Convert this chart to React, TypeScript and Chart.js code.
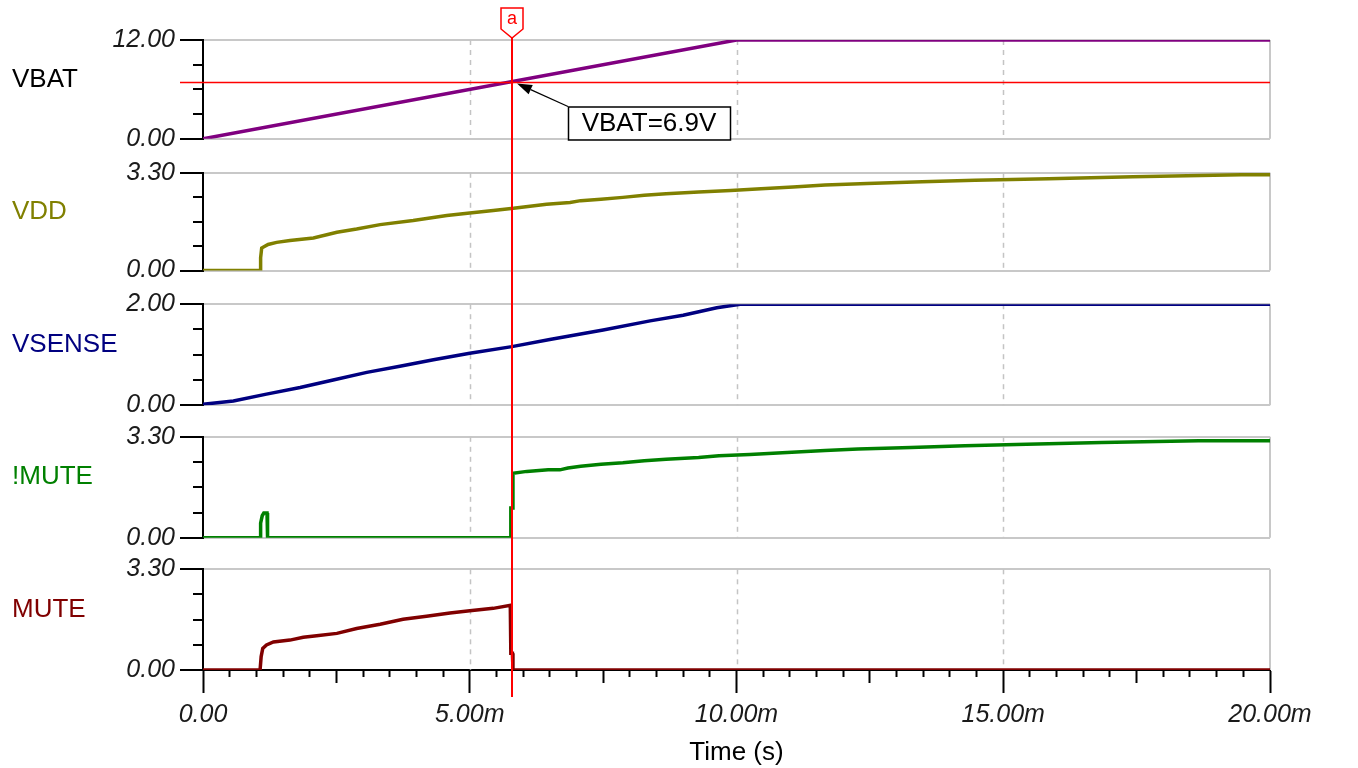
import { useEffect, useRef } from 'react';
import { Chart, registerables } from 'chart.js';

Chart.register(...registerables);
Chart.defaults.font.family = '"Liberation Sans", Arial, sans-serif';

// ---------- data ----------
const SERIES_NAMES = ['VBAT', 'VDD', 'VSENSE', '!MUTE', 'MUTE'];
const SERIES_COLORS = ['#800080', '#808000', '#000080', '#008000', '#800000'];
const LABEL_COLORS = ['#000000', '#808000', '#000080', '#008000', '#800000'];
const Y_MAX = [12, 3.3, 2, 3.3, 3.3];
const Y_TICK_LABELS = [
  ['0.00', '12.00'],
  ['0.00', '3.30'],
  ['0.00', '2.00'],
  ['0.00', '3.30'],
  ['0.00', '3.30'],
];

// time in ms
const VBAT_T = [0, 10, 20];
const VBAT_V = [0, 12, 12];

const VDD_T = [0, 1.07, 1.08, 1.1, 1.22, 1.38, 1.63, 2.07, 2.51, 2.88, 3.32, 3.94, 4.57, 5.0, 5.44, 5.82, 6.44, 6.88, 7.08, 7.46, 7.87, 8.27, 8.68, 9.29, 9.89, 10.46, 11.06, 11.66, 12.45, 13.48, 14.47, 15.85, 17.43, 19.46, 20];
const VDD_V = [0, 0, 0.43, 0.76, 0.88, 0.95, 1.01, 1.1, 1.29, 1.4, 1.55, 1.69, 1.86, 1.94, 2.03, 2.1, 2.24, 2.3, 2.36, 2.41, 2.47, 2.54, 2.59, 2.65, 2.7, 2.76, 2.82, 2.89, 2.94, 3.0, 3.05, 3.1, 3.17, 3.23, 3.23];

const VSENSE_T = [0, 0.57, 1.19, 1.82, 2.44, 3.07, 3.69, 4.32, 5.0, 5.79, 6.5, 7.5, 8.38, 9.0, 9.63, 10.07, 20];
const VSENSE_V = [0.02, 0.085, 0.22, 0.35, 0.5, 0.65, 0.77, 0.9, 1.03, 1.16, 1.3, 1.49, 1.67, 1.78, 1.93, 2.0, 2.0];

const NMUTE_T = [0, 1.07, 1.08, 1.11, 1.14, 1.2, 1.21, 5.76, 5.77, 5.8, 5.81, 6.07, 6.47, 6.69, 6.84, 7.08, 7.46, 7.87, 8.27, 8.68, 9.29, 9.67, 10.25, 10.86, 11.66, 12.28, 13.27, 14.28, 15.44, 16.85, 18.66, 20];
const NMUTE_V = [0, 0, 0.48, 0.72, 0.81, 0.81, 0, 0, 0.97, 0.97, 2.11, 2.17, 2.22, 2.22, 2.28, 2.34, 2.4, 2.45, 2.52, 2.57, 2.62, 2.68, 2.72, 2.78, 2.85, 2.9, 2.95, 3.01, 3.06, 3.11, 3.17, 3.17];

const MUTE_T = [0, 1.07, 1.09, 1.12, 1.19, 1.32, 1.63, 1.88, 2.13, 2.51, 2.88, 3.32, 3.75, 4.19, 4.63, 5.0, 5.44, 5.76, 5.77, 5.8, 5.81, 20];
const MUTE_V = [0, 0, 0.44, 0.71, 0.82, 0.92, 0.98, 1.07, 1.12, 1.2, 1.36, 1.5, 1.66, 1.76, 1.87, 1.94, 2.02, 2.12, 0.55, 0.55, 0, 0];

const SERIES_T = [VBAT_T, VDD_T, VSENSE_T, NMUTE_T, MUTE_T];
const SERIES_V = [VBAT_V, VDD_V, VSENSE_V, NMUTE_V, MUTE_V];

const X_MIN = 0;
const X_MAX = 20;
const X_TICK_STEP = 0.5;
const X_MAJOR = [0, 5, 10, 15, 20];
const X_TICK_LABELS = ['0.00', '5.00m', '10.00m', '15.00m', '20.00m'];
const X_GRID = [5, 10, 15];
const X_TITLE = 'Time (s)';

const CURSOR_NAME = 'a';
const CURSOR_T = 5.79;
const CURSOR_V = 6.9;
const CURSOR_UNIT = 'V';

// ---------- layout ----------
const PANEL_IDS = ['y0', 'y1', 'y2', 'y3', 'y4'];
const PANEL_H = [98.8, 97.7, 101, 101, 100.7];
const GAP_H = [34, 33.7, 31.6, 31.5];
const AXIS_W = 203;
const FONT = '"Liberation Sans", Arial, sans-serif';

function near(a: number, b: number) {
  return Math.abs(a - b) < 1e-9;
}

const overlayPlugin = {
  id: 'overlay',
  beforeDatasetsDraw(chart: any) {
    const ctx = chart.ctx;
    const xs = chart.scales.x;
    ctx.save();
    PANEL_IDS.forEach((id) => {
      const ys = chart.scales[id];
      ctx.strokeStyle = '#c4c4c4';
      ctx.lineWidth = 1.5;
      ctx.setLineDash([5, 5]);
      X_GRID.forEach((v) => {
        const px = Math.round(xs.getPixelForValue(v)) + 0.5;
        ctx.beginPath();
        ctx.moveTo(px, ys.top);
        ctx.lineTo(px, ys.bottom);
        ctx.stroke();
      });
      ctx.setLineDash([]);
      ctx.lineWidth = 2;
      ctx.strokeStyle = '#c8c8c8';
      const rx = Math.round(xs.getPixelForValue(X_MAX));
      ctx.beginPath();
      ctx.moveTo(rx, ys.top);
      ctx.lineTo(rx, ys.bottom);
      ctx.stroke();
    });
    ctx.restore();
  },
  afterDatasetsDraw(chart: any) {
    const ctx = chart.ctx;
    const xs = chart.scales.x;
    ctx.save();

    // panel labels
    ctx.font = `26px ${FONT}`;
    ctx.textAlign = 'left';
    ctx.textBaseline = 'middle';
    PANEL_IDS.forEach((id, i) => {
      const ys = chart.scales[id];
      ctx.fillStyle = LABEL_COLORS[i];
      ctx.fillText(SERIES_NAMES[i], 12, (ys.top + ys.bottom) / 2 - 10);
    });

    // cursor
    const y0 = chart.scales.y0;
    const yLast = chart.scales[PANEL_IDS[PANEL_IDS.length - 1]];
    const cx = Math.round(xs.getPixelForValue(CURSOR_T));
    const cy = Math.round(y0.getPixelForValue(CURSOR_V)) + 0.5;
    ctx.strokeStyle = '#ff0000';
    ctx.lineWidth = 1.5;
    ctx.beginPath();
    ctx.moveTo(y0.right - 23, cy);
    ctx.lineTo(xs.right, cy);
    ctx.stroke();

    const mTop = y0.top - 32;
    const mSide = y0.top - 11;
    const mApex = y0.top - 2;
    ctx.lineWidth = 2;
    ctx.beginPath();
    ctx.moveTo(cx, mApex);
    ctx.lineTo(cx, yLast.bottom + 27);
    ctx.stroke();

    ctx.lineWidth = 1.5;
    ctx.fillStyle = '#ffffff';
    ctx.beginPath();
    ctx.moveTo(cx - 11, mTop);
    ctx.lineTo(cx + 11, mTop);
    ctx.lineTo(cx + 11, mSide);
    ctx.lineTo(cx, mApex);
    ctx.lineTo(cx - 11, mSide);
    ctx.closePath();
    ctx.fill();
    ctx.stroke();
    ctx.fillStyle = '#ff0000';
    ctx.font = `18px ${FONT}`;
    ctx.textAlign = 'center';
    ctx.textBaseline = 'middle';
    ctx.fillText(CURSOR_NAME, cx, mTop + 11);

    // annotation box + arrow
    const bx = cx + 56;
    const by = cy + 24;
    const bw = 162;
    const bh = 33;
    const tipX = cx + 5;
    const tipY = cy + 1;
    ctx.strokeStyle = '#000000';
    ctx.fillStyle = '#000000';
    ctx.lineWidth = 1.2;
    const ang = Math.atan2(tipY - by, tipX - bx);
    const headLen = 15;
    const baseX = tipX - headLen * Math.cos(ang);
    const baseY = tipY - headLen * Math.sin(ang);
    ctx.beginPath();
    ctx.moveTo(bx, by);
    ctx.lineTo(baseX, baseY);
    ctx.stroke();
    ctx.beginPath();
    ctx.moveTo(tipX, tipY);
    ctx.lineTo(baseX + 5 * Math.sin(ang), baseY - 5 * Math.cos(ang));
    ctx.lineTo(baseX - 5 * Math.sin(ang), baseY + 5 * Math.cos(ang));
    ctx.closePath();
    ctx.fill();

    ctx.fillStyle = '#ffffff';
    ctx.fillRect(bx, by, bw, bh);
    ctx.lineWidth = 1.5;
    ctx.strokeRect(bx + 0.5, by + 0.5, bw, bh);
    ctx.fillStyle = '#000000';
    ctx.font = `26px ${FONT}`;
    ctx.textAlign = 'center';
    ctx.textBaseline = 'middle';
    ctx.fillText(`${SERIES_NAMES[0]}=${CURSOR_V}${CURSOR_UNIT}`, bx + bw / 2, by + bh / 2 + 1);

    ctx.restore();
  },
};

function buildConfig(): any {
  const scales: any = {
    x: {
      type: 'linear',
      min: X_MIN,
      max: X_MAX,
      afterBuildTicks: (s: any) => {
        const t: any[] = [];
        for (let v = X_MIN; v <= X_MAX + 1e-9; v += X_TICK_STEP) t.push({ value: v });
        s.ticks = t;
      },
      afterFit: (s: any) => {
        s.height = 98;
      },
      grid: {
        display: true,
        drawOnChartArea: false,
        tickLength: 23,
        tickColor: '#000000',
        tickWidth: 2,
        tickBorderDash: (c: any) => {
          const v = c.tick ? c.tick.value : 0;
          if (X_MAJOR.some((m) => near(m, v))) return [];
          if (near(v % 2.5, 0)) return [12, 100];
          return [6, 100];
        },
      },
      border: { display: true, color: '#000000', width: 2 },
      ticks: {
        autoSkip: false,
        maxRotation: 0,
        minRotation: 0,
        padding: 7,
        color: '#1a1a1a',
        font: { size: 25, style: 'italic', family: FONT },
        callback: (v: any) => {
          const i = X_MAJOR.findIndex((m) => near(m, Number(v)));
          return i >= 0 ? X_TICK_LABELS[i] : '';
        },
      },
      title: {
        display: true,
        text: X_TITLE,
        color: '#000000',
        font: { size: 26, family: FONT },
        padding: { top: 0, bottom: 0 },
      },
    },
  };

  PANEL_IDS.forEach((id, i) => {
    scales[id] = {
      type: 'linear',
      position: 'left',
      stack: 'panels',
      stackWeight: PANEL_H[i],
      weight: 100 - 2 * i,
      min: 0,
      max: Y_MAX[i],
      afterBuildTicks: (s: any) => {
        s.ticks = [0, 1, 2, 3, 4].map((k) => ({ value: (Y_MAX[i] * k) / 4 }));
      },
      afterFit: (s: any) => {
        s.width = AXIS_W;
      },
      grid: {
        display: true,
        drawOnChartArea: true,
        color: (c: any) => (c.index === 0 || c.index === 4 ? '#c8c8c8' : 'rgba(0,0,0,0)'),
        lineWidth: 2,
        tickColor: '#000000',
        tickWidth: 2,
        tickLength: 23,
        tickBorderDash: (c: any) => (c.index === 0 || c.index === 4 ? [] : [0, 13, 10, 0]),
      },
      border: { display: true, color: '#000000', width: 2 },
      ticks: {
        autoSkip: false,
        padding: 5,
        color: '#1a1a1a',
        font: { size: 25, style: 'italic', family: FONT },
        callback: (_v: any, idx: number) =>
          idx === 0 ? Y_TICK_LABELS[i][0] : idx === 4 ? Y_TICK_LABELS[i][1] : '',
      },
    };
    if (i < GAP_H.length) {
      scales['g' + i] = {
        type: 'linear',
        position: 'left',
        stack: 'panels',
        stackWeight: GAP_H[i],
        weight: 100 - 2 * i - 1,
        display: true,
        min: 0,
        max: 1,
        grid: { display: false },
        ticks: { display: false },
        border: { display: false },
        afterFit: (s: any) => {
          s.width = AXIS_W;
        },
      };
    }
  });

  return {
    type: 'line',
    data: {
      datasets: SERIES_NAMES.map((name, i) => ({
        label: name,
        xAxisID: 'x',
        yAxisID: PANEL_IDS[i],
        data: SERIES_T[i].map((t, k) => ({ x: t, y: SERIES_V[i][k] })),
        borderColor: SERIES_COLORS[i],
        backgroundColor: SERIES_COLORS[i],
        borderWidth: 3.5,
        pointRadius: 0,
        tension: 0,
        fill: false,
      })),
    },
    options: {
      responsive: false,
      animation: false,
      devicePixelRatio: 1,
      layout: { padding: { top: 40, right: 88, bottom: 0, left: 0 } },
      plugins: {
        legend: { display: false },
        tooltip: { enabled: false },
      },
      scales,
    },
    plugins: [overlayPlugin],
  };
}

export default function App() {
  const ref = useRef<HTMLCanvasElement>(null);
  useEffect(() => {
    if (!ref.current) return;
    const chart = new Chart(ref.current, buildConfig());
    return () => chart.destroy();
  }, []);
  return (
    <div style={{ position: 'fixed', left: 0, top: 0, width: 1358, height: 768, background: '#ffffff' }}>
      <canvas ref={ref} width={1358} height={768} style={{ display: 'block' }} />
    </div>
  );
}
